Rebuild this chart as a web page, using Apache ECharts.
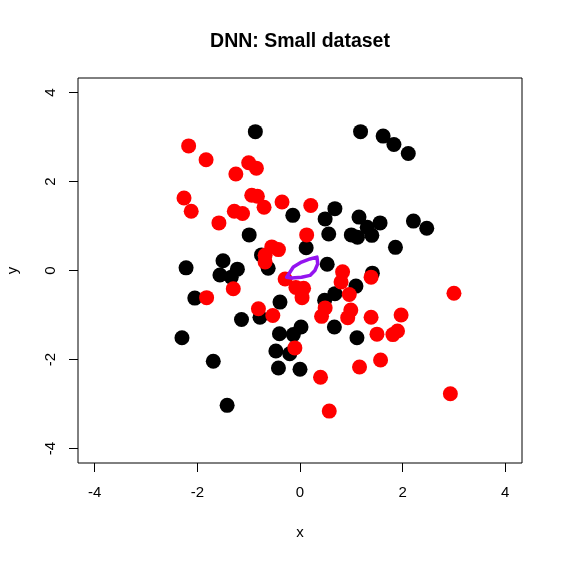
<!DOCTYPE html>
<html>
<head>
<meta charset="utf-8">
<script src="https://cdn.jsdelivr.net/npm/echarts@6/dist/echarts.min.js"></script>
<style>
html,body{margin:0;padding:0;background:#fff;}
#chart{width:562px;height:562px;}
</style>
</head>
<body>
<div id="chart"></div>
<script>
const titleText = 'DNN: Small dataset';
const xTicks = [-4, -2, 0, 2, 4];
const yTicks = [-4, -2, 0, 2, 4];

const blackPoints = [
  [-0.87, 3.12], [1.18, 3.12], [1.62, 3.02], [1.83, 2.83], [2.11, 2.63],
  [-0.14, 1.24], [0.68, 1.39], [0.49, 1.16], [1.15, 1.20], [1.56, 1.07],
  [1.31, 0.97], [1.00, 0.80], [1.12, 0.75], [1.40, 0.79], [2.21, 1.11],
  [2.47, 0.95], [1.86, 0.52], [0.56, 0.82], [0.12, 0.51], [0.53, 0.14],
  [1.41, -0.06], [1.09, -0.35], [0.68, -0.52], [0.48, -0.67], [0.67, -1.27],
  [0.02, -1.27], [1.11, -1.51], [-0.99, 0.80], [-0.75, 0.35], [-0.62, 0.05],
  [-2.22, 0.06], [-1.50, 0.22], [-1.22, 0.03], [-1.56, -0.10], [-1.34, -0.15],
  [-2.05, -0.62], [-0.39, -0.71], [-0.78, -1.05], [-1.14, -1.10], [-0.40, -1.42],
  [-0.13, -1.44], [-0.47, -1.81], [-0.20, -1.87], [-0.42, -2.19], [0.00, -2.22],
  [-2.30, -1.51], [-1.69, -2.04], [-1.42, -3.03]
];

const redPoints = [
  [-2.17, 2.80], [-1.83, 2.49], [-1.00, 2.42], [-0.85, 2.30], [-1.25, 2.17],
  [-2.26, 1.63], [-2.12, 1.33], [-0.94, 1.69], [-0.83, 1.67], [-0.70, 1.42],
  [-0.35, 1.54], [0.21, 1.46], [-1.28, 1.33], [-1.12, 1.28], [-1.58, 1.07],
  [0.13, 0.80], [-0.55, 0.53], [-0.42, 0.47], [-0.68, 0.34], [-0.68, 0.19],
  [-1.30, -0.41], [-1.82, -0.61], [-0.29, -0.19], [-0.08, -0.38], [0.07, -0.40],
  [0.04, -0.61], [-0.81, -0.86], [-0.53, -1.01], [-0.10, -1.74], [0.40, -2.40],
  [0.57, -3.16], [0.83, -0.03], [0.80, -0.26], [1.385, -0.15], [0.96, -0.54],
  [0.49, -0.84], [0.42, -1.03], [0.99, -0.89], [0.93, -1.06], [1.385, -1.05],
  [1.97, -1.00], [1.50, -1.43], [1.81, -1.44], [1.90, -1.36], [1.57, -2.01],
  [1.16, -2.17], [3.00, -0.51], [2.93, -2.77]
];

const boundary = [
  [-0.26, -0.15], [-0.13, 0.08], [0.03, 0.19], [0.195, 0.26], [0.33, 0.30],
  [0.345, 0.15], [0.29, 0.00], [0.195, -0.11], [0.03, -0.15], [-0.16, -0.17],
  [-0.26, -0.15]
];

const FONT = "'Liberation Sans', Arial, Helvetica, sans-serif";
const chart = echarts.init(document.getElementById('chart'), null, {renderer: 'canvas'});
chart.setOption({
  animation: false,
  backgroundColor: '#ffffff',
  title: {
    text: titleText,
    left: 300,
    textAlign: 'center',
    top: 32,
    padding: 0,
    textStyle: {fontFamily: FONT, fontSize: 19.5, fontWeight: 'bold', color: '#000'}
  },
  grid: {
    left: 78, right: 40, top: 78, bottom: 99,
    show: true, borderColor: '#000', borderWidth: 1, backgroundColor: 'transparent',
    containLabel: false, outerBoundsMode: 'none'
  },
  xAxis: {
    type: 'value', min: -4.326, max: 4.326,
    name: 'x', nameLocation: 'middle', nameGap: 62,
    nameTextStyle: {fontFamily: FONT, fontSize: 15, color: '#000'},
    axisLine: {show: false, onZero: false},
    splitLine: {show: false},
    axisTick: {show: true, length: 9, customValues: xTicks, lineStyle: {color: '#000', width: 1}},
    axisLabel: {customValues: xTicks, margin: 22, fontFamily: FONT, fontSize: 15, color: '#000'}
  },
  yAxis: {
    type: 'value', min: -4.326, max: 4.326,
    name: 'y', nameLocation: 'middle', nameGap: 58,
    nameTextStyle: {fontFamily: FONT, fontSize: 15, color: '#000'},
    axisLine: {show: false, onZero: false},
    splitLine: {show: false},
    axisTick: {show: true, length: 9, customValues: yTicks, lineStyle: {color: '#000', width: 1}},
    axisLabel: {customValues: yTicks, rotate: 90, margin: 20, fontFamily: FONT, fontSize: 15, color: '#000'}
  },
  series: [
    {
      type: 'scatter', data: blackPoints, symbol: 'circle', symbolSize: 15,
      itemStyle: {color: '#000000', opacity: 1}, silent: true, z: 2
    },
    {
      type: 'scatter', data: redPoints, symbol: 'circle', symbolSize: 15,
      itemStyle: {color: '#ff0000', opacity: 1}, silent: true, z: 3
    },
    {
      type: 'line', data: boundary, showSymbol: false, smooth: false,
      lineStyle: {color: '#9414f0', width: 3.5, join: 'round', cap: 'round'}, silent: true, z: 4
    }
  ]
});
</script>
</body>
</html>
